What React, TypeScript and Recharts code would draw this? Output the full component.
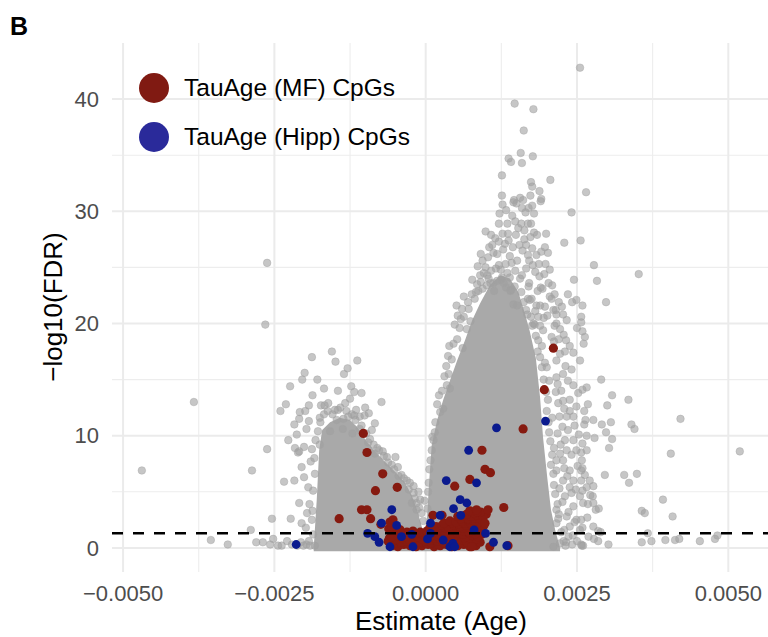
import { ComposedChart, Area, Scatter, XAxis, YAxis, ReferenceLine } from 'recharts'

type Pt = [number, number]

const FONT = '"Liberation Sans", Arial, Helvetica, sans-serif'

// axis layout
const xTicks = [-0.005, -0.0025, 0, 0.0025, 0.005]
const xMinor = [-0.00375, -0.00125, 0.00125, 0.00375]
const yTicks = [0, 10, 20, 30, 40]
const yMinor = [5, 15, 25, 35]
const xDomain: [number, number] = [-0.005183, 0.005656]
const yDomain: [number, number] = [-2.15, 45]
const fdrCutoff = 1.3 // -log10(0.05)

// upper edge of the dense grey cloud (both lobes)
const cloudEstimate = [
  -0.00185, -0.0018, -0.00176, -0.00171, -0.00158, -0.00142, -0.00125, -0.00112, -0.00099, -0.00082,
  -0.00066, -0.00049, -0.00034, -0.00023, -0.00013, -0.00005, 0.00001, 0.00002, 0.00006, 0.0001,
  0.00019, 0.00029, 0.0004, 0.00052, 0.00065, 0.00077, 0.0009, 0.00106, 0.00123, 0.00139,
  0.00153, 0.00164, 0.00172, 0.00182, 0.00189, 0.00194, 0.00201, 0.00207, 0.00214, 0.00222,
]
const cloudTop = [
  0, 4.3, 8.7, 10.5, 11.2, 11.6, 11.4, 10.7, 9.6, 8.5,
  7.6, 6.7, 5.8, 4.7, 3.2, 1.6, 1.0, 2.5, 6.1, 9.2,
  11.4, 13.2, 14.9, 16.7, 18.5, 20.3, 21.8, 23.4, 24.3, 24.0,
  22.8, 20.9, 19.3, 16.9, 13.4, 9.8, 6.2, 3.4, 1.6, 0,
]

// background CpGs: [estimate, -log10(FDR)]
const greyPeak: Pt[] = [
  [0.00255, 42.8], [0.00147, 39.6], [0.00178, 39.1], [0.00162, 37.2], [0.00157, 35.2], [0.00177, 34.9],
  [0.00137, 34.7], [0.00141, 34.4], [0.00159, 34.3], [0.00126, 33.2], [0.00174, 32.6], [0.00176, 32.2],
  [0.00206, 32.8], [0.00188, 31.8], [0.00191, 31.1], [0.00265, 31.7], [0.00126, 31.4], [0.00127, 30.6],
  [0.00146, 31.0], [0.00156, 31.2], [0.00161, 31.0], [0.0015, 30.7], [0.00173, 31.4], [0.00176, 30.5],
  [0.0017, 30.3], [0.00159, 30.3], [0.00241, 29.9], [0.00122, 29.8], [0.00179, 29.8], [0.0019, 30.9],
  [0.00145, 30.8], [0.00121, 28.9], [0.00135, 28.9], [0.00148, 29.1], [0.00169, 28.9], [0.00174, 28.9],
  [0.00099, 28.2], [0.00108, 27.9], [0.00127, 28.0], [0.00136, 28.0], [0.00179, 28.1], [0.00184, 27.9],
  [0.00173, 27.7], [0.00163, 27.5], [0.00199, 28.0], [0.00229, 27.2], [0.00256, 27.4], [0.0011, 27.0],
  [0.00112, 26.3], [0.00091, 26.2], [0.00197, 26.8], [0.00202, 26.3], [0.00169, 26.1], [0.00151, 25.6],
  [0.00142, 25.4], [0.00132, 25.3], [0.00121, 25.2], [0.00116, 24.9], [0.00124, 24.8], [0.00278, 25.2],
  [0.00352, 24.4], [0.00077, 23.9], [0.00096, 24.5], [0.00102, 24.3], [0.00107, 23.6], [0.00083, 22.8],
  [0.00063, 22.4], [0.00051, 21.6], [0.00053, 20.7], [0.00139, 24.1], [0.00156, 24.0], [0.00159, 24.3],
  [0.00147, 23.3], [0.0017, 23.3], [0.0019, 23.2], [0.00203, 23.6], [0.00193, 23.1], [0.00245, 23.9],
  [0.00283, 23.8], [0.00235, 22.6], [0.00208, 22.2], [0.00249, 22.1], [0.00242, 21.9], [0.00298, 21.9],
  [0.00259, 21.6], [0.00225, 21.5], [0.00215, 21.2], [0.00216, 20.8], [0.00257, 20.6], [0.00141, 23.0],
  [0.00145, 21.7], [0.00151, 21.6], [0.00168, 20.8], [0.00169, 22.2], [0.00183, 21.6], [0.00197, 21.5],
  [0.00175, 22.2], [0.00108, 24.7], [0.00091, 23.7], [0.00118, 23.8], [0.00171, 23.6], [0.00172, 22.1],
  [0.00189, 21.6], [0.00205, 22.4], [0.00211, 21.2], [0.00216, 20.0], [0.00178, 20.0], [0.00131, 27.1],
  [0.00144, 26.8], [0.00155, 27.0], [0.00163, 28.3], [0.00118, 26.2], [0.00139, 26.0], [0.0016, 26.5],
  [0.00187, 25.3], [0.00181, 24.6], [0.00166, 24.9], [0.00129, 23.6], [0.00113, 22.9], [0.00185, 22.9],
  [0.00196, 24.4], [0.00153, 28.5], [0.00143, 29.6], [0.00165, 29.9], [0.00133, 30.1],
  [0.00086, 25.1], [0.00094, 25.6], [0.00103, 25.9], [0.00105, 26.8], [0.00115, 27.6], [0.00121, 27.3],
  [0.00128, 26.6], [0.00137, 27.4], [0.00149, 27.9], [0.00158, 28.9], [0.00166, 27.0], [0.00176, 26.7],
  [0.00183, 26.1], [0.00191, 26.4], [0.00188, 24.2], [0.00177, 25.2], [0.00171, 25.6], [0.00148, 24.7],
  [0.00135, 24.5], [0.00126, 24.1], [0.00104, 24.0], [0.00099, 25.0], [0.0009, 24.3], [0.00085, 23.5],
  [0.00076, 22.6], [0.0007, 21.9], [0.0006, 21.3], [0.00058, 20.4], [0.00198, 25.3], [0.00205, 24.8],
  [0.00209, 23.4], [0.00213, 22.6], [0.0022, 21.9], [0.00227, 20.8], [0.00233, 20.3], [0.00222, 19.5],
  [0.00228, 19.0], [0.00238, 18.0], [0.00244, 17.4], [0.0023, 17.5], [0.00213, 19.8], [0.00201, 20.7],
  [0.00195, 20.5], [0.00186, 20.6], [0.00181, 21.1],
]

const greyRightFlank: Pt[] = [
  [0.00212, 18.4], [0.0022, 18.6], [0.00232, 18.5], [0.00222, 17.3], [0.00231, 16.2], [0.00241, 15.9],
  [0.00255, 16.7], [0.0029, 15.0], [0.00257, 20.1], [0.0025, 19.6], [0.00259, 19.3], [0.00263, 18.8],
  [0.00261, 18.2], [0.00266, 14.3], [0.00259, 14.1], [0.00308, 13.6], [0.00335, 13.2], [0.003, 12.7],
  [0.00262, 12.2], [0.00264, 11.4], [0.00262, 11.0], [0.00291, 11.0], [0.00306, 11.2], [0.00298, 10.3],
  [0.0034, 11.0], [0.00345, 10.6], [0.00421, 11.5], [0.00279, 9.8], [0.00308, 9.7], [0.00303, 8.9],
  [0.00259, 9.3], [0.00257, 8.5], [0.00405, 8.4], [0.00519, 8.6], [0.00259, 7.1], [0.00257, 6.9],
  [0.00257, 6.0], [0.00296, 6.5], [0.00328, 6.5], [0.00349, 6.6], [0.00336, 5.8], [0.00277, 5.5],
  [0.00259, 5.1], [0.00272, 4.7], [0.00268, 3.9], [0.00281, 3.4], [0.00286, 3.5], [0.00392, 4.3],
  [0.00357, 3.3], [0.00362, 3.1], [0.00408, 2.8], [0.00257, 2.5], [0.00259, 1.8], [0.00285, 1.5],
  [0.00289, 1.4], [0.00367, 1.3], [0.00278, 0.8], [0.00285, 0.6], [0.00302, 0.3], [0.00357, 0.5],
  [0.00373, 0.6], [0.00396, 0.7], [0.00412, 0.7], [0.00419, 0.8], [0.00453, 0.6], [0.00478, 0.8],
  [0.00482, 1.1], [0.00257, 0.3], [0.0026, 0.2], [0.00238, 13.2], [0.00227, 13.1], [0.00249, 12.6],
  [0.00238, 12.2], [0.00229, 12.4], [0.00221, 11.7], [0.00233, 11.7], [0.00244, 11.7], [0.00277, 11.4],
  [0.00266, 10.0], [0.0023, 9.6], [0.00244, 9.6], [0.00249, 8.7], [0.00266, 8.7], [0.00233, 8.7],
  [0.00216, 7.8], [0.00227, 7.8], [0.00258, 7.8], [0.00238, 6.9], [0.00216, 6.9], [0.00227, 6.0],
  [0.00244, 6.0], [0.00271, 6.0], [0.00266, 5.4], [0.00238, 5.4], [0.0023, 4.6], [0.00255, 4.6],
  [0.00276, 4.6], [0.00244, 3.7], [0.0026, 4.0], [0.00277, 4.0], [0.00216, 3.4], [0.00233, 2.8],
  [0.00249, 2.5], [0.00216, 2.2], [0.00238, 1.9], [0.00255, 1.6], [0.00277, 1.9], [0.00236, 1.0],
  [0.00258, 0.2], [0.00211, 0.1], [0.00222, 0.4], [0.00202, 13.2], [0.00209, 11.6], [0.00204, 10.3],
  [0.00212, 8.9], [0.00207, 7.4], [0.00212, 5.6], [0.00204, 14.9], [0.00197, 16.5], [0.00215, 13.9],
  [0.00192, 18.0], [0.00182, 18.9], [0.00176, 19.8], [0.00189, 19.8], [0.00194, 19.4], [0.00208, 18.8],
  [0.00189, 17.0], [0.00216, 16.7], [0.002, 16.1], [0.00216, 15.2],
  [0.00218, 14.6], [0.00224, 14.0], [0.00219, 12.9], [0.00226, 10.8], [0.00218, 10.2], [0.00223, 9.2],
  [0.00235, 10.5], [0.00241, 8.3], [0.00222, 8.4], [0.00229, 7.1], [0.00234, 6.4], [0.00221, 5.3],
  [0.00226, 4.1], [0.00236, 3.2], [0.00241, 4.9], [0.00248, 5.2], [0.00251, 7.3], [0.00246, 10.9],
  [0.00253, 10.1], [0.00252, 13.8], [0.00244, 14.5], [0.00235, 14.9], [0.00227, 15.5], [0.00246, 2.3],
  [0.00243, 1.1], [0.0025, 0.6], [0.00229, 1.6], [0.0022, 3.0], [0.00232, 0.5], [0.00242, 0.3],
  [0.00269, 1.0], [0.00267, 2.7], [0.00263, 6.5], [0.00268, 12.8],
]

// points scattered along the rim of the right lobe
const greyRightRim: Pt[] = [
  [0.00048, 19.9], [0.00068, 19.5], [0.00039, 18.0], [0.00037, 17.1], [0.00038, 15.5], [0.00061, 17.8],
  [0.00035, 14.5], [0.0004, 14.2], [0.00029, 12.4], [0.00024, 12.1], [0.00015, 10.3], [0.00013, 9.6],
  [0.0001, 8.7], [0.00006, 7.0], [0.00004, 5.0], [0.00003, 3.5], [0.00005, 5.8], [0.00008, 7.8],
  [0.00011, 9.9], [0.00016, 11.2], [0.00019, 12.8], [0.00022, 13.6], [0.00027, 14.0], [0.00031, 15.3],
  [0.00034, 16.2], [0.00043, 16.8], [0.00046, 18.2], [0.00052, 18.6], [0.00056, 19.6], [0.00063, 20.6],
  [0.00071, 21.3], [0.00074, 20.2], [0.00081, 22.2], [0.00087, 22.9], [0.00094, 23.1], [0.00101, 23.4],
  [0.00112, 23.6], [0.00125, 23.9], [0.00133, 23.2], [0.0014, 22.9], [0.00158, 22.8], [0.00162, 21.9],
  [0.00166, 21.2], [0.00174, 20.6], [0.0018, 19.9], [0.00186, 18.5], [0.00185, 17.5], [0.00192, 16.1],
  [0.00195, 15.0], [0.00199, 13.9], [0.002, 12.2], [0.00203, 11.2], [0.00206, 9.5], [0.00209, 8.3],
  [0.00211, 6.6], [0.00214, 4.8], [0.00218, 3.9], [0.00219, 2.6], [0.00224, 1.4], [0.00228, 0.6],
  [0.00231, 0.2],
]

const greyLeft: Pt[] = [
  [-0.00262, 25.4], [-0.00265, 19.9], [-0.00383, 13.0], [-0.00262, 8.8], [-0.00469, 6.9], [-0.00287, 6.9],
  [-0.00254, 2.6], [-0.00289, 1.6], [-0.00355, 0.7], [-0.00327, 0.3], [-0.0028, 0.5], [-0.00269, 0.5],
  [-0.00257, 0.3], [-0.00252, 0.8], [-0.00238, 0.2], [-0.00244, 0.2], [-0.00155, 17.5], [-0.00149, 16.6],
  [-0.00113, 16.7], [-0.00129, 16.0], [-0.00135, 15.5], [-0.00123, 14.4], [-0.00188, 17.0], [-0.002, 15.6],
  [-0.00204, 15.0], [-0.00179, 15.0], [-0.00224, 14.4], [-0.0024, 12.2], [-0.00208, 12.1], [-0.00199, 12.2],
  [-0.00193, 12.7], [-0.00209, 11.5], [-0.00193, 11.3], [-0.00217, 11.0], [-0.00173, 12.7], [-0.00167, 12.7],
  [-0.00161, 12.9], [-0.00174, 11.2], [-0.00133, 12.9], [-0.001, 12.5], [-0.00073, 13.0], [-0.00101, 11.8],
  [-0.00109, 11.7], [-0.00118, 11.8], [-0.00128, 11.7], [-0.00136, 11.5], [-0.00147, 11.4], [-0.00089, 10.5],
  [-0.00109, 10.6], [-0.00137, 10.6], [-0.00211, 8.5], [-0.00201, 9.0], [-0.00188, 8.8], [-0.00184, 8.0],
  [-0.00205, 7.2], [-0.0019, 7.7], [-0.00234, 5.9], [-0.00217, 6.0], [-0.00209, 4.0], [-0.00192, 3.9],
  [-0.00194, 5.4], [-0.00196, 3.1], [-0.00188, 2.5], [-0.00198, 1.8], [-0.00216, 8.9], [-0.00209, 8.6],
  [-0.00175, 9.2], [-0.00084, 8.4], [-0.00069, 8.2], [-0.0005, 8.1], [-0.00045, 6.4], [-0.00031, 6.0],
  [-0.0002, 5.5], [-0.00012, 5.0], [-0.00002, 4.2], [-0.00015, 4.0], [-0.00023, 4.0], [-0.00202, 0.2],
  [-0.00191, 0.2], [-0.00183, 0.2], [-0.00026, 5.8], [-0.0002, 4.9], [-0.00009, 4.3], [-0.00015, 3.4],
  [-0.00007, 3.1], [-0.00158, 10.4], [-0.00121, 10.2], [-0.00095, 9.4], [-0.0008, 8.9], [-0.00062, 7.6],
  [-0.0015, 12.3], [-0.00141, 12.5], [-0.00115, 12.3], [-0.00125, 13.3],
]

// points scattered along the rim of the left lobe
const greyLeftRim: Pt[] = [
  [-0.00186, 1.2], [-0.00187, 3.3], [-0.00186, 5.1], [-0.00183, 6.6], [-0.00182, 9.6], [-0.00178, 10.4],
  [-0.00175, 11.6], [-0.00168, 11.9], [-0.00162, 12.2], [-0.00154, 11.9], [-0.00145, 12.3], [-0.00131, 12.2],
  [-0.00122, 11.9], [-0.00116, 11.4], [-0.00106, 10.9], [-0.00098, 10.2], [-0.00092, 9.7], [-0.00086, 9.2],
  [-0.00077, 8.7], [-0.00071, 8.6], [-0.00064, 8.1], [-0.00056, 7.4], [-0.00052, 7.0], [-0.00046, 7.2],
  [-0.0004, 6.5], [-0.00036, 6.2], [-0.00028, 5.2], [-0.00018, 4.4], [-0.00011, 3.6], [-0.00004, 2.4],
  [-0.00193, 0.6], [-0.00197, 0.3], [-0.00206, 0.5], [-0.00212, 0.2], [-0.00221, 0.3], [-0.00229, 0.6],
  [-0.00223, 2.6], [-0.00205, 2.2], [-0.00201, 6.3], [-0.00227, 9.6], [-0.00213, 10.1], [-0.00197, 10.6],
  [-0.00231, 12.8], [-0.00187, 13.6], [-0.00168, 14.2], [-0.00145, 14.0], [-0.00118, 13.9], [-0.00106, 13.8],
  [-0.00094, 12.0], [-0.00084, 11.1],
]

// TauAge (MF) CpGs
const mfSpread: Pt[] = [
  [0.00211, 17.8], [0.00196, 14.1], [0.00161, 10.6], [0.00093, 8.7], [0.00098, 7.0], [0.00107, 6.7],
  [0.00073, 6.1], [0.00048, 5.5], [0.00129, 3.6], [0.00103, 3.4], [0.00084, 3.4], [0.00012, 2.9],
  [0.00106, 0.1], [0.00136, 0.2], [0.00076, 0.1], [0.00098, 2.2], [0.00027, 2.9],
  [-0.00103, 10.2], [-0.00097, 8.5], [-0.00071, 6.6], [-0.00047, 5.4], [-0.00083, 5.1], [-0.00106, 3.4],
  [-0.00097, 3.4], [-0.00143, 2.6], [-0.00091, 2.6], [-0.00074, 2.1], [-0.00061, 1.7], [-0.00056, 1.9],
  [-0.00042, 1.6], [-0.00059, 2.3], [-0.00054, 2.5],
]

const mfBase: Pt[] = [
  [-0.00056, 0.2], [-0.00046, 0.1], [-0.00036, 0.3], [-0.00026, 0.2], [-0.00016, 0.1], [-0.00006, 0.2],
  [0.00004, 0.3], [0.00014, 0.1], [0.00024, 0.2], [0.00034, 0.3], [0.00043, 0.1], [0.00053, 0.2],
  [0.00063, 0.3], [0.00073, 0.1], [0.00083, 0.2],
  [-0.0005, 0.4], [-0.0004, 0.35], [-0.0003, 0.4], [-0.0002, 0.35], [-0.0001, 0.4], [0.0, 0.45],
  [0.0001, 0.4], [0.0002, 0.35], [0.0003, 0.45], [0.0004, 0.4], [0.0005, 0.45], [0.0006, 0.4],
  [0.0007, 0.35], [0.0008, 0.4], [0.0009, 0.5],
  [-0.00062, 0.6], [-0.00051, 0.7], [-0.00041, 0.5], [-0.00031, 0.6], [-0.00021, 0.7], [-0.00011, 0.5],
  [-0.00001, 0.6], [0.00009, 0.7], [0.00019, 0.6], [0.00029, 0.5], [0.00039, 0.7], [0.00048, 0.6],
  [0.00058, 0.7], [0.00068, 0.5], [0.00078, 0.6],
  [-0.0006, 0.85], [-0.00048, 0.8], [-0.00038, 0.85], [-0.00028, 0.8], [-0.00018, 0.9], [-0.00006, 0.8],
  [0.00004, 0.85], [0.00014, 0.9], [0.00024, 0.8], [0.00034, 0.85], [0.00044, 0.9], [0.00054, 0.8],
  [0.00064, 0.9], [0.00074, 0.85], [0.00084, 0.8], [0.00092, 1.2],
  [-0.00057, 1.0], [-0.00046, 1.1], [-0.00036, 1.0], [-0.00024, 1.1], [-0.00013, 1.0], [-0.00003, 1.1],
  [0.00007, 1.0], [0.00017, 1.1], [0.00027, 1.0], [0.00037, 1.1], [0.00047, 1.0], [0.00057, 1.2],
  [0.00067, 1.0], [0.00077, 1.1], [0.00086, 1.0],
  [-0.00046, 1.3], [-0.0003, 1.2], [-0.00016, 1.3], [-0.00006, 1.25], [0.00012, 1.3], [0.00022, 1.2],
  [0.00032, 1.3], [0.00042, 1.25], [0.00052, 1.3], [0.00062, 1.2], [0.00072, 1.3], [0.00082, 1.25],
  [-0.00052, 1.5], [-0.00041, 1.4], [-0.00031, 1.4], [-0.00021, 1.5], [-0.00009, 1.4], [0.00002, 1.5],
  [0.00012, 1.6], [0.00022, 1.5], [0.00032, 1.4], [0.00042, 1.5], [0.00052, 1.6], [0.00062, 1.5],
  [0.00072, 1.4], [0.00081, 1.5], [0.00091, 1.6],
  [0.00007, 1.8], [0.00022, 1.75], [0.00032, 1.8], [0.00042, 1.75], [0.00052, 1.8], [0.00062, 1.75],
  [0.00072, 1.8], [0.00082, 1.7], [0.0009, 1.8],
  [0.00017, 1.9], [0.00027, 2.0], [0.00037, 1.9], [0.00047, 2.0], [0.00057, 1.9], [0.00067, 2.0],
  [0.00077, 2.0], [0.00086, 1.9], [0.00096, 2.0],
  [0.0003, 2.2], [0.00045, 2.2], [0.00055, 2.15], [0.00065, 2.2], [0.00075, 2.2], [0.00085, 2.15],
  [0.00094, 2.5],
  [0.0004, 2.4], [0.0005, 2.3], [0.0006, 2.4], [0.0007, 2.5], [0.0008, 2.4], [0.0009, 2.3],
  [0.00058, 2.6], [0.0007, 2.6], [0.0008, 2.65], [0.0009, 2.6], [0.001, 3.0],
  [0.00053, 2.8], [0.00065, 2.9], [0.00075, 2.8], [0.00085, 2.9], [0.00095, 2.8],
  [0.00068, 3.0], [0.0008, 3.1], [0.00091, 3.2], [0.00073, 3.3], [0.00085, 3.2],
]

// TauAge (Hipp) CpGs
const hipp: Pt[] = [
  [0.00198, 11.3], [0.00117, 10.7], [0.00071, 8.7], [0.00034, 6.0], [0.00084, 5.8], [0.00057, 4.3],
  [0.00068, 4.0], [0.00046, 3.5], [0.00024, 2.9], [0.00058, 2.9], [0.0008, 1.6], [0.00099, 1.3],
  [0.00112, 0.5], [0.0004, 0.1], [0.00045, 0.4], [0.00029, 0.7], [0.00008, 2.2], [0.00003, 0.8],
  [0.00008, 1.3], [0.00048, 0.1], [0.00134, 0.2], [-0.00023, 1.2], [-0.0004, 1.0], [-0.00021, 0.1],
  [-0.00056, 3.4], [-0.00073, 2.2], [-0.00059, 0.1], [-0.00048, 2.0], [-0.00096, 1.3], [-0.00084, 1.0],
  [-0.00077, 0.5], [-0.00214, 0.3],
]

const rows = (pts: Pt[]) => pts.map(([x, y]) => ({ x, y }))
const cloud = cloudEstimate.map((x, i) => ({ x, y: cloudTop[i] }))
const grey = rows([...greyLeft, ...greyLeftRim, ...greyRightRim, ...greyRightFlank, ...greyPeak])
const mf = rows([...mfBase, ...mfSpread])
const hp = rows(hipp)

const GREY = '#A0A0A0'
const RED = '#861A10'
const BLUE = '#0A1A8E'

const greyDot = (p: any) => (
  <circle cx={p.cx} cy={p.cy} r={3.8} fill={GREY} fillOpacity={0.6} stroke={GREY} strokeOpacity={0.45} strokeWidth={0.9} />
)
const solidDot = (r: number, fill: string) => (p: any) => <circle cx={p.cx} cy={p.cy} r={r} fill={fill} />

const fmtX = (v: number) => (v < 0 ? '\u2212' : '') + Math.abs(v).toFixed(4)

export default function App() {
  return (
    <div style={{ position: 'absolute', left: 0, top: 0, width: 768, height: 637, background: '#fff', fontFamily: FONT }}>
      <ComposedChart width={768} height={637} data={cloud} margin={{ top: 43, right: 0, bottom: 25, left: 52 }}>
        {xMinor.map((v) => (
          <ReferenceLine key={'xm' + v} x={v} stroke="#EDEDED" strokeWidth={1.1} zIndex={-100} />
        ))}
        {yMinor.map((v) => (
          <ReferenceLine key={'ym' + v} y={v} stroke="#EDEDED" strokeWidth={1.1} zIndex={-100} />
        ))}
        {xTicks.map((v) => (
          <ReferenceLine key={'x' + v} x={v} stroke="#EBEBEB" strokeWidth={2} zIndex={-100} />
        ))}
        {yTicks.map((v) => (
          <ReferenceLine key={'y' + v} y={v} stroke="#EBEBEB" strokeWidth={2} zIndex={-100} />
        ))}
        <XAxis
          type="number"
          dataKey="x"
          domain={xDomain}
          allowDataOverflow
          ticks={xTicks}
          interval={0}
          tickFormatter={fmtX}
          axisLine={false}
          tickLine={false}
          tickSize={0}
          tickMargin={13}
          height={40}
          tick={{ fill: '#4D4D4D', fontSize: 22, fontFamily: FONT }}
        />
        <YAxis
          type="number"
          dataKey="y"
          domain={yDomain}
          allowDataOverflow
          ticks={yTicks}
          interval={0}
          axisLine={false}
          tickLine={false}
          tickSize={0}
          tickMargin={13}
          width={60}
          tick={{ fill: '#4D4D4D', fontSize: 22, fontFamily: FONT }}
        />
        <Area
          type="linear"
          dataKey="y"
          baseValue={-0.3}
          stroke="none"
          fill="#A9A9A9"
          fillOpacity={1}
          isAnimationActive={false}
          activeDot={false}
        />
        <Scatter data={grey} dataKey="y" shape={greyDot} isAnimationActive={false} />
        <Scatter data={mf} dataKey="y" shape={solidDot(4.6, RED)} isAnimationActive={false} />
        <Scatter data={hp} dataKey="y" shape={solidDot(4.4, BLUE)} isAnimationActive={false} />
        <ReferenceLine y={fdrCutoff} stroke="#000" strokeWidth={2.6} strokeDasharray="11 10" zIndex={900} />
      </ComposedChart>

      <svg width={768} height={637} style={{ position: 'absolute', left: 0, top: 0, pointerEvents: 'none' }}>
        <text x={10} y={35} fontSize={25} fontWeight="bold" fontFamily={FONT} fill="#000">B</text>
        <circle cx={154} cy={88} r={15} fill="#801A12" />
        <text x={184} y={96} fontSize={24.5} fontFamily={FONT} fill="#000">TauAge (MF) CpGs</text>
        <circle cx={154} cy={137} r={15} fill="#2A2A9A" />
        <text x={184} y={145} fontSize={24.5} fontFamily={FONT} fill="#000">TauAge (Hipp) CpGs</text>
        <text x={441} y={630} fontSize={26} fontFamily={FONT} fill="#000" textAnchor="middle">Estimate (Age)</text>
        <text transform="translate(62,307) rotate(-90)" fontSize={26} fontFamily={FONT} fill="#000" textAnchor="middle">
          {'\u2212log10(FDR)'}
        </text>
      </svg>
    </div>
  )
}
